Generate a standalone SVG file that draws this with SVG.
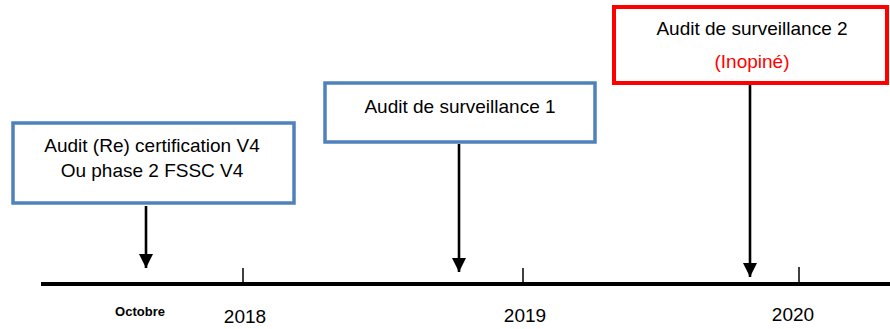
<svg xmlns="http://www.w3.org/2000/svg" width="890" height="329" viewBox="0 0 890 329">
<defs>
<marker id="ah" viewBox="0 0 10 10" refX="10" refY="5" markerWidth="5.5" markerHeight="5.5" markerUnits="strokeWidth" orient="auto">
<path d="M0,0 L10,5 L0,10 z" fill="#000"/>
</marker>
<style>
.box{fill:#fff;stroke:#4F81BD;stroke-width:3.5}
.red{fill:#fff;stroke:#FF0000;stroke-width:4}
.t{font-family:"Liberation Sans",Arial,sans-serif;font-size:19px;fill:#000;text-anchor:middle}
.arr{stroke:#000;stroke-width:2.6;fill:none;marker-end:url(#ah)}
.tick{stroke:#000;stroke-width:1.5}
</style>
</defs>
<rect width="890" height="329" fill="#fff"/>
<g id="timeline">
<line x1="41" y1="284" x2="890" y2="284" stroke="#000" stroke-width="4"/>
<line class="tick" x1="243" y1="268" x2="243" y2="284"/>
<line class="tick" x1="523" y1="268" x2="523" y2="284"/>
<line class="tick" x1="799" y1="267" x2="799" y2="284"/>
<text x="140" y="316" font-family="Liberation Sans,Arial,sans-serif" font-size="13" font-weight="bold" text-anchor="middle">Octobre</text>
<text class="t" x="245" y="323">2018</text>
<text class="t" x="525" y="322">2019</text>
<text class="t" x="793" y="321">2020</text>
</g>
<g id="node1">
<rect class="box" x="13" y="123" width="281" height="80"/>
<text class="t" x="152" y="152">Audit (Re) certification V4</text>
<text class="t" x="152" y="177">Ou phase 2 FSSC V4</text>
</g>
<g id="node2">
<rect class="box" x="325" y="83" width="270" height="59"/>
<text class="t" x="460" y="113">Audit de surveillance 1</text>
</g>
<g id="node3">
<rect class="red" x="614" y="7" width="273" height="76"/>
<text class="t" x="752" y="35">Audit de surveillance 2</text>
<text class="t" x="752" y="68" style="fill:#FF0000">(Inopiné)</text>
</g>
<g id="connectors">
<line class="arr" x1="146" y1="206" x2="146" y2="268"/>
<line class="arr" x1="459" y1="144" x2="459" y2="272"/>
<line class="arr" x1="750" y1="85" x2="750" y2="277"/>
</g>
</svg>
